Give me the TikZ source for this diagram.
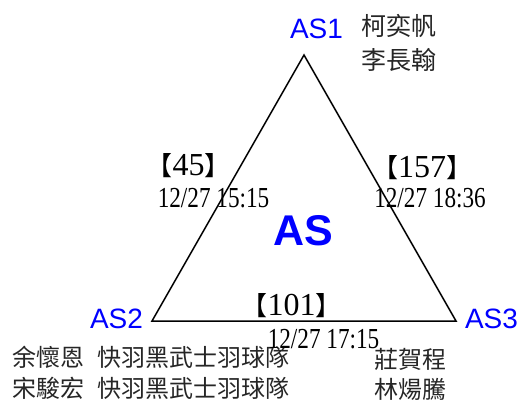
\documentclass[tikz,border=0pt]{standalone}
\usepackage{fontspec}
\usepackage{graphicx}
\setmainfont{Liberation Serif}
\newfontfamily\cjk{Noto Sans CJK TC}
\newfontfamily\cjkb{Noto Sans CJK JP}
\newfontfamily\arial{Liberation Sans}
\newcommand{\mylb}{{\cjkb\fontsize{26}{26}\selectfont 【}}
\newcommand{\myrb}{{\cjkb\fontsize{26}{26}\selectfont 】}}
\newcommand{\mydate}[1]{\scalebox{0.8}[1]{#1}}
\begin{document}
\begin{tikzpicture}[x=1pt,y=-1pt,
  vlabel/.style={text=blue, font=\arial\fontsize{28}{28}\selectfont, inner sep=0pt, anchor=base},
  center/.style={text=blue, font=\arial\bfseries\fontsize{43}{43}\selectfont, inner sep=0pt, anchor=base},
  count/.style={font=\fontsize{32}{32}\selectfont, inner sep=0pt, anchor=base},
  stamp/.style={font=\fontsize{29}{29}\selectfont, inner sep=0pt, anchor=base},
  names/.style={font=\cjk\fontsize{24}{24}\selectfont, text=black!85, inner sep=0pt, anchor=base west},
  edge/.style={draw=black, line width=1.5pt, line join=miter}]
\useasboundingbox (0,0) rectangle (524,400);
\coordinate (v1) at (304,55);
\coordinate (v2) at (152,321);
\coordinate (v3) at (456,321);
\draw[edge] (v1) -- (v2) -- (v3) -- cycle;
\node[vlabel] (as1) at (316.5,38) {AS1};
\node[vlabel] (as2) at (116.5,328) {AS2};
\node[vlabel] (as3) at (491.5,328) {AS3};
\node[center] (as) at (303,245) {AS};
\node[names] (n1a) at (361,35.5) {\fontsize{25}{25}\selectfont 柯奕帆};
\node[names] (n1b) at (361,69.5) {\fontsize{25}{25}\selectfont 李長翰};
\node[names] (n2a) at (12,366.5) {余懷恩\hspace{13pt}快羽黑武士羽球隊};
\node[names] (n2b) at (12,397) {宋駿宏\hspace{13pt}快羽黑武士羽球隊};
\node[names] (n3a) at (374,368) {莊賀程};
\node[names] (n3b) at (374,398) {林煬騰};
\node[count] (c12) at (188.5,175) {\mylb 45\myrb};
\node[stamp] (t12) at (213.5,207) {\mydate{12/27 15:15}};
\node[count] (c13) at (422,177) {\mylb 157\myrb};
\node[stamp] (t13) at (430,207) {\mydate{12/27 18:36}};
\node[count] (c23) at (291.5,315) {\mylb 101\myrb};
\node[stamp] (t23) at (323.5,348) {\mydate{12/27 17:15}};
\end{tikzpicture}
\end{document}
